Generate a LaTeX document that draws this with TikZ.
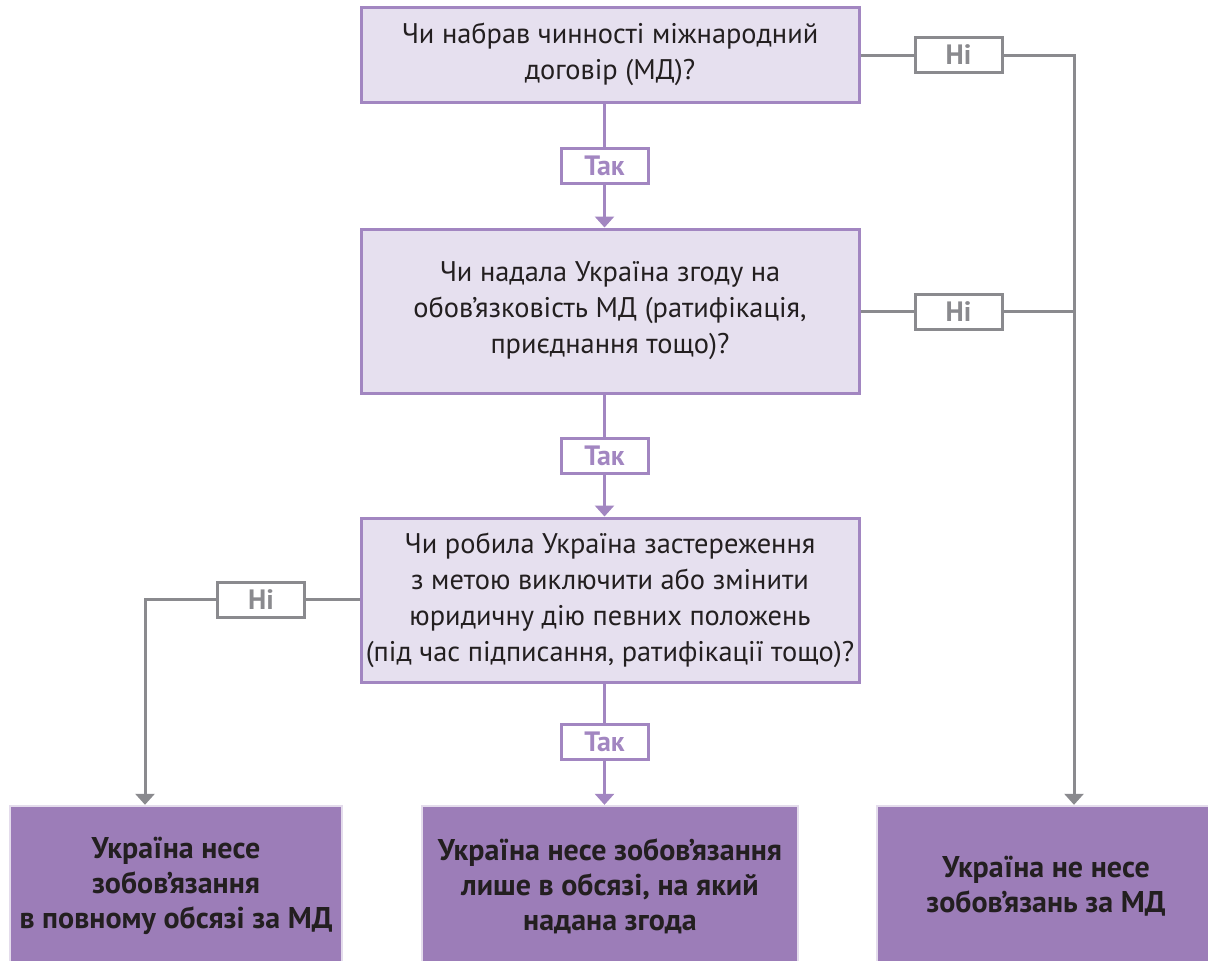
\documentclass[tikz,border=0pt]{standalone}
\usepackage{fontspec}
\setmainfont{PT Sans}
\usetikzlibrary{arrows.meta, positioning}
\definecolor{qfill}{HTML}{E6E0EF}
\definecolor{qline}{HTML}{A286C1}
\definecolor{ansfill}{HTML}{9C7DB8}
\definecolor{ansline}{HTML}{E4DCEC}
\definecolor{greyline}{HTML}{8A8A8E}
\definecolor{textdark}{HTML}{231F20}
\begin{document}
\begin{tikzpicture}[x=0.5pt,y=-0.5pt,
  question/.style={draw=qline, line width=1.5pt, fill=qfill, minimum width=249pt, inner sep=0pt, align=center, text=textdark, font=\fontsize{14.2}{18}\selectfont},
  answer/.style={draw=ansline, line width=1.2pt, fill=ansfill, minimum height=80pt, inner sep=0pt, align=center, text=textdark, font=\bfseries\fontsize{15}{17.5}\selectfont},
  yesbox/.style={draw=qline, line width=1.5pt, fill=white, minimum width=43.5pt, minimum height=17.5pt, inner sep=0pt, text=qline, font=\bfseries\fontsize{14}{14}\selectfont},
  nobox/.style={yesbox, draw=greyline, text=greyline},
  yesline/.style={draw=qline, line width=1.5pt},
  noline/.style={draw=greyline, line width=1.5pt},
  tip/.style={-{Triangle[width=9.5pt,length=5.5pt]}}]
\useasboundingbox (0,0) rectangle (1208,960);

% questions
\node[question, minimum height=47.5pt] (q1) at (610,54.5) {Чи набрав чинності міжнародний\\ договір (МД)?};
\node[question, minimum height=82pt] (q2) at (610,311) {Чи надала Україна згоду на\\ обов’язковість МД (ратифікація,\\ приєднання тощо)?};
\node[question, minimum height=82pt] (q3) at (610,600) {Чи робила Україна застереження\\ з метою виключити або змінити\\ юридичну дію певних положень\\ (під час підписання, ратифікації тощо)?};

% answers
\node[answer, minimum width=166pt] (r1) at (176,886) {Україна несе\\ зобов’язання\\ в повному обсязі за МД};
\node[answer, minimum width=188pt] (r2) at (610,886) {Україна несе зобов’язання\\ лише в обсязі, на який\\ надана згода};
\node[answer, minimum width=169pt] (r3) at (1046,886) {Україна не несе\\ зобов’язань за МД};

% labels
\node[yesbox] (yes1) at (604.5,165.5) {Так};
\node[yesbox] (yes2) at (604.5,456) {Так};
\node[yesbox] (yes3) at (604.5,741.5) {Так};
\node[nobox] (no1) at (958.5,55) {Ні};
\node[nobox] (no2) at (958.5,311.5) {Ні};
\node[nobox] (no3) at (261,599.5) {Ні};
\coordinate (rjoin) at (1074,55);
\coordinate (ljoin) at (145,599.5);

% yes branch
\draw[yesline] (yes1.north |- q1.south) -- (yes1.north);
\draw[yesline, tip] (yes1.south) -- (yes1.south |- q2.north);
\draw[yesline] (yes2.north |- q2.south) -- (yes2.north);
\draw[yesline, tip] (yes2.south) -- (yes2.south |- q3.north);
\draw[yesline] (yes3.north |- q3.south) -- (yes3.north);
\draw[yesline, tip] (yes3.south) -- (yes3.south |- r2.north);

% no branch
\draw[noline] (q1.east |- no1) -- (no1.west);
\draw[noline, tip] (no1.east) -- (rjoin) -- (rjoin |- r3.north);
\draw[noline] (q2.east |- no2) -- (no2.west);
\draw[noline] (no2.east) -- (no2.east -| rjoin);
\draw[noline] (q3.west |- no3) -- (no3.east);
\draw[noline, tip] (no3.west) -- (ljoin) -- (ljoin |- r1.north);
\end{tikzpicture}
\end{document}
